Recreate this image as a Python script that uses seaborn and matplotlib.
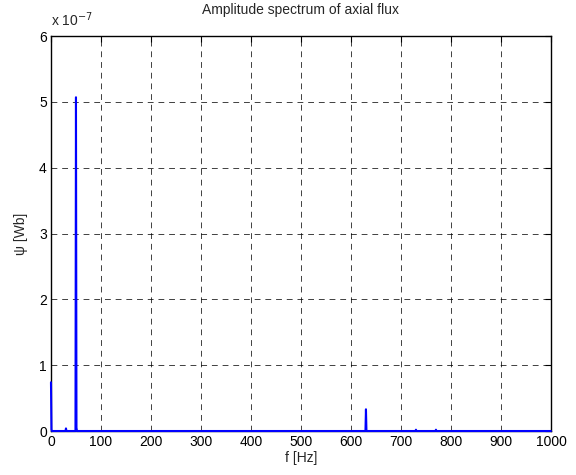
import matplotlib
matplotlib.use("Agg")
import matplotlib.pyplot as plt
import seaborn as sns
import pandas as pd
import numpy as np

# Data (frequency in Hz, amplitude in units of 1e-7 Wb)
freq = [0, 1, 2, 29, 30, 31, 49, 50, 51, 52, 629, 630, 631, 729, 730, 731, 769, 770, 771, 1000]
amp_e7 = [0.74, 0.02, 0.0, 0.0, 0.04, 0.0, 0.0, 5.07, 0.05, 0.0, 0.0, 0.33, 0.0, 0.0, 0.02, 0.0, 0.0, 0.02, 0.0, 0.0]
xticks = [0, 100, 200, 300, 400, 500, 600, 700, 800, 900, 1000]
yticks = [0, 1, 2, 3, 4, 5, 6]

df = pd.DataFrame({"f": freq, "psi": amp_e7})

sns.set_style("white")
plt.rcParams['font.family'] = ['Liberation Sans', 'DejaVu Sans']

fig = plt.figure(figsize=(5.76, 4.75), dpi=100)
ax = fig.add_axes([0.0885, 0.0926, 0.868, 0.8315])

sns.lineplot(data=df, x="f", y="psi", ax=ax, color="#0000ff", linewidth=1.5,
             sort=False, estimator=None, zorder=3)
for ln in ax.lines:
    ln.set_clip_on(False)

ax.set_xlim(0, 1000)
ax.set_ylim(0, 6)
ax.set_xticks(xticks)
ax.set_yticks(yticks)
ax.set_xticklabels([str(t) for t in xticks], fontsize=10)
ax.set_yticklabels([str(t) for t in yticks], fontsize=10)
ax.grid(True, color="black", linestyle=(0, (6, 5)), linewidth=0.7, alpha=0.75)
ax.tick_params(direction="in", length=4, top=True, right=True, width=0.8, pad=3, colors="black")
for s in ax.spines.values():
    s.set_visible(True)
    s.set_color("black")
    s.set_linewidth(1.0)
    s.set_zorder(2.5)

ax.set_xlabel("f [Hz]", fontsize=10, labelpad=1)
ax.set_ylabel("ψ [Wb]", fontsize=10, labelpad=8)
ax.set_title("Amplitude spectrum of axial flux", fontsize=10, pad=16)
ax.text(0.0, 1.018, "x 10$^{-7}$", transform=ax.transAxes, fontsize=10, ha="left", va="bottom")

fig.savefig("out.png", dpi=100)
